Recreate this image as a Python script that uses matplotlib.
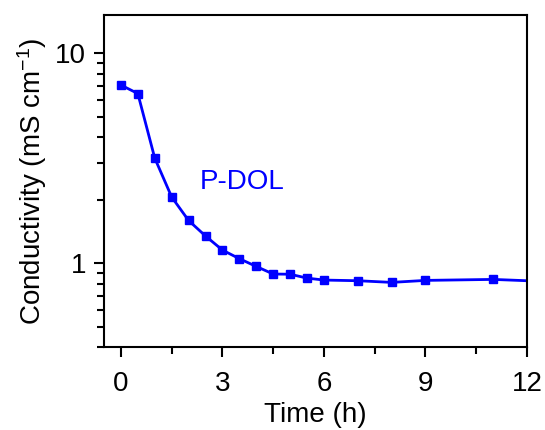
import matplotlib
matplotlib.use("Agg")
import matplotlib.pyplot as plt
from matplotlib.ticker import LogLocator, NullFormatter, FixedLocator, MultipleLocator

plt.rcParams['font.family'] = ['Liberation Sans', 'DejaVu Sans']
plt.rcParams['mathtext.fontset'] = 'custom'
plt.rcParams['mathtext.rm'] = 'Liberation Sans'
plt.rcParams['mathtext.it'] = 'Liberation Sans:italic'

time_h = [0, 0.5, 1, 1.5, 2, 2.5, 3, 3.5, 4, 4.5, 5, 5.5, 6, 7, 8, 9, 11, 13]
conductivity = [7.06, 6.43, 3.17, 2.07, 1.60, 1.35, 1.157, 1.053, 0.967, 0.89, 0.888,
                0.851, 0.833, 0.827, 0.812, 0.83, 0.839, 0.815]
series_label = "P-DOL"
x_ticks = [0, 3, 6, 9, 12]

fig = plt.figure(figsize=(5.45, 4.30), dpi=100)
ax = fig.add_axes([0.1908, 0.193, 0.967 - 0.1908, 0.965 - 0.193])

blue = '#0000FF'
ax.plot(time_h, conductivity, color=blue, lw=2.0, marker='s', ms=5.5, mec=blue, mfc=blue)
ax.set_yscale('log')
ax.set_xlim(-0.5, 12)
ax.set_ylim(0.4, 15.2)

ax.xaxis.set_major_locator(FixedLocator(x_ticks))
ax.xaxis.set_minor_locator(MultipleLocator(1.5))
ax.yaxis.set_major_locator(LogLocator(base=10, numticks=10))
ax.yaxis.set_minor_locator(LogLocator(base=10, subs=range(2, 10), numticks=10))
ax.yaxis.set_minor_formatter(NullFormatter())
ax.yaxis.set_major_formatter(plt.FuncFormatter(lambda v, p: f"{v:g}"))

ax.tick_params(axis='both', which='major', direction='out', length=7, width=1.5, labelsize=20)
ax.tick_params(axis='x', which='major', pad=10)
ax.tick_params(axis='y', which='major', pad=6)
ax.tick_params(axis='both', which='minor', direction='out', length=5, width=1.5)
for s in ax.spines.values():
    s.set_linewidth(1.5)

ax.set_xlabel('Time (h)', fontsize=20, labelpad=4)
ax.set_ylabel('Conductivity (mS cm$^{-1}$)', fontsize=20, labelpad=4)

ax.text(2.34, 2.43, series_label, color=blue, fontsize=20, va='center', ha='left')

fig.savefig('out.png', dpi=100)
